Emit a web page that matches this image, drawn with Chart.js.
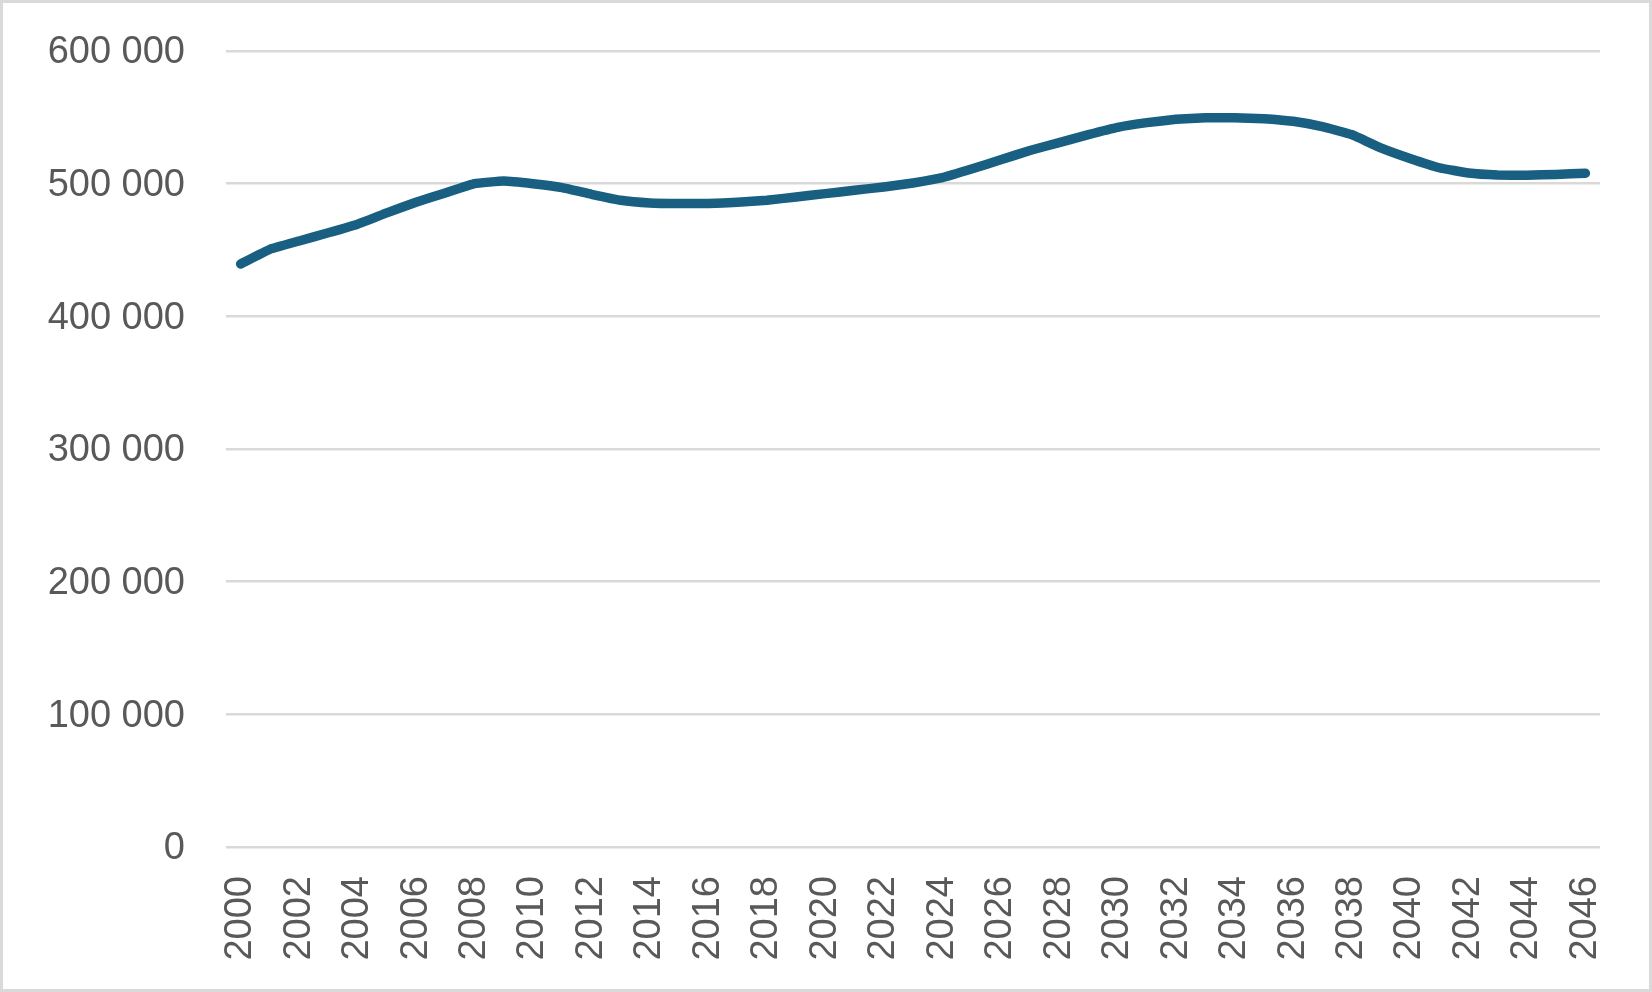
<!DOCTYPE html>
<html>
<head>
<meta charset="utf-8">
<script src="https://cdn.jsdelivr.net/npm/chart.js@4/dist/chart.umd.min.js"></script>
<style>
    html, body { margin: 0; padding: 0; background: #ffffff; }
    #wrap { width: 1652px; height: 992px; }
</style>
</head>
<body>
<div id="wrap"><canvas id="chart" width="1652" height="992"></canvas></div>
<script>
// data
const years = [];
for (let y = 2000; y <= 2046; y++) years.push(String(y));

const population = [
    439500, 450500, 456800, 463000, 469500, 478000, 486000, 493000, 500000, 502000,
    500000, 497000, 492000, 487500, 485500, 485000, 485000, 486000, 487500, 490000,
    492500, 495000, 497500, 500500, 504500, 511000, 518000, 525000, 531000, 537000,
    542500, 546000, 548500, 549700, 549700, 549000, 547000, 543000, 537000, 527000,
    519000, 512000, 508000, 506500, 506300, 507000, 507800,
];

const Y_MIN = 0;
const Y_MAX = 600000;
const Y_STEP = 100000;

const LINE_COLOR = '#185f81';
const GRID_COLOR = '#d9d9d9';
const TEXT_COLOR = '#595959';
const FONT = "'Liberation Sans', Arial, sans-serif";

// Excel-ish thousands separator: 600 000
function fmt(v) {
    return String(v).replace(/\B(?=(\d{3})+(?!\d))/g, ' ');
}

// white background + light grey frame around the whole chart
const framePlugin = {
    id: 'frame',
    beforeDraw(chart) {
        const c = chart.ctx;
        c.save();
        c.fillStyle = '#ffffff';
        c.fillRect(0, 0, chart.width, chart.height);
        c.restore();
    },
    afterDraw(chart) {
        const c = chart.ctx;
        c.save();
        c.strokeStyle = GRID_COLOR;
        c.lineWidth = 3;
        c.strokeRect(1.5, 1.5, chart.width - 3, chart.height - 3);
        c.restore();
    },
};

new Chart(document.getElementById('chart').getContext('2d'), {
    type: 'line',
    data: {
        labels: years,
        datasets: [{
            data: population,
            borderColor: LINE_COLOR,
            borderWidth: 9.5,
            borderCapStyle: 'round',
            borderJoinStyle: 'round',
            pointRadius: 0,
            tension: 0.1,
            fill: false,
        }],
    },
    options: {
        responsive: false,
        devicePixelRatio: 1,
        animation: false,
        layout: { padding: { top: 51, right: 52, bottom: 0, left: 0 } },
        scales: {
            x: {
                offset: true,
                grid: { display: false },
                border: { display: false },
                ticks: {
                    autoSkip: false,
                    minRotation: 90,
                    maxRotation: 90,
                    padding: 21,
                    color: TEXT_COLOR,
                    font: { size: 38, family: FONT },
                    callback: (v, i) => (i % 2 === 0 ? years[i] : null),
                },
                // fixed axis height, and no extra side padding from the rotated labels
                afterFit: (s) => { s.height = 145; s.paddingLeft = 0; s.paddingRight = 0; },
            },
            y: {
                min: Y_MIN,
                max: Y_MAX,
                grid: { color: GRID_COLOR, lineWidth: 2.5, drawTicks: false },
                border: { display: false },
                ticks: {
                    stepSize: Y_STEP,
                    padding: 41,
                    labelOffset: 2,
                    color: TEXT_COLOR,
                    font: { size: 38, family: FONT },
                    callback: (v) => fmt(v),
                },
                afterFit: (s) => { s.width = 226; s.paddingTop = 0; s.paddingBottom = 0; },
            },
        },
        plugins: {
            legend: { display: false },
            tooltip: { enabled: false },
        },
    },
    plugins: [framePlugin],
});
</script>
</body>
</html>
